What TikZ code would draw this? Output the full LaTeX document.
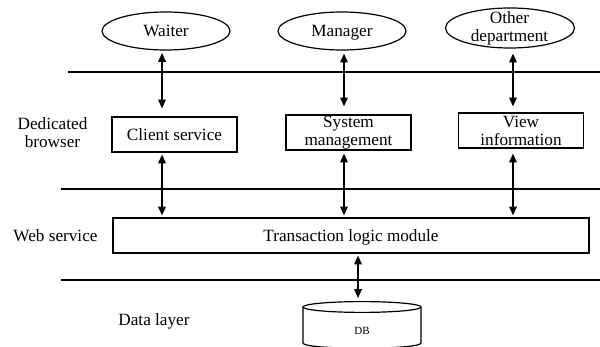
\documentclass[tikz,border=0pt]{standalone}
\usepackage{fontspec}
\setmainfont{Liberation Serif}
\usetikzlibrary{arrows.meta,shapes.geometric}
\begin{document}
\begin{tikzpicture}[x=0.5pt,y=-0.5pt,
  every node/.style={font=\fontsize{8.6}{9}\selectfont},
  actor/.style={ellipse,draw,line width=0.6pt,minimum width=64pt,minimum height=19pt,inner sep=0pt,align=center,text depth=0pt},
  box/.style={rectangle,draw,line width=0.6pt,minimum width=62.5pt,minimum height=17.5pt,inner sep=0pt,align=center},
  lbl/.style={align=center,inner sep=0pt},
  sep/.style={line width=0.6pt},
  arr/.style={line width=0.7pt,{Triangle[length=4.4pt,width=3.8pt]}-{Triangle[length=4.4pt,width=3.8pt]}}]
\useasboundingbox (0,0) rectangle (600,347);

% actors
\node[actor] (w) at (166,31) {Waiter};
\node[actor] (m) at (342,31) {Manager};
\node[actor,minimum width=64.5pt,minimum height=20pt] (o) at (510,28) {};
\node[lbl] (ot) at (509.5,28.5) {Other\\department};

% layer separators
\draw[sep] (68,72) -- (600,72);
\draw[sep] (61,189) -- (600,189);
\draw[sep] (61,280) -- (600,280);

% layer labels
\node[lbl] (lb1) at (52.5,132.5) {Dedicated\\browser};
\node[lbl] (lb2) at (55.5,236) {Web service};
\node[lbl] (lb3) at (154,321) {Data layer};

% boxes
\node[box] (cs) at (174.5,134.5) {Client service};
\node[box] (sm) at (348.5,132.5) {System\\management};
\node[box] (vi) at (521,130.5) {View\\information};
\node[box,minimum width=238pt,text depth=0pt] (tl) at (351,235.5) {Transaction logic module};

% database
\draw[line width=0.6pt] (303,307) -- (303,343) .. controls (303,350) and (421,350) .. (421,343) -- (421,307);
\draw[line width=0.6pt,fill=white] (362,307) ellipse [x radius=29.5pt, y radius=2.7pt];
\node[font=\fontsize{5.5}{6}\selectfont] (db) at (362,331) {DB};
\coordinate (dbtop) at (358,302);

% arrow columns
\coordinate (x1) at (162,0);
\coordinate (x2) at (344,0);
\coordinate (x3) at (513,0);
\coordinate (x4) at (358,0);

\draw[arr,shorten <=1.2pt,shorten >=4pt] (w.south -| x1) -- (cs.north -| x1);
\draw[arr,shorten <=1.5pt,shorten >=4pt] (m.south -| x2) -- (sm.north -| x2);
\draw[arr,shorten <=2.5pt,shorten >=3pt] (o.south -| x3) -- (vi.north -| x3);

\draw[arr,shorten <=1pt,shorten >=1pt] (cs.south -| x1) -- (tl.north -| x1);
\draw[arr,shorten <=1.5pt,shorten >=1pt] (sm.south -| x2) -- (tl.north -| x2);
\draw[arr,shorten <=2.5pt,shorten >=1pt] (vi.south -| x3) -- (tl.north -| x3);

\draw[arr,shorten <=1pt,shorten >=2pt] (tl.south -| x4) -- (dbtop);
\end{tikzpicture}
\end{document}
